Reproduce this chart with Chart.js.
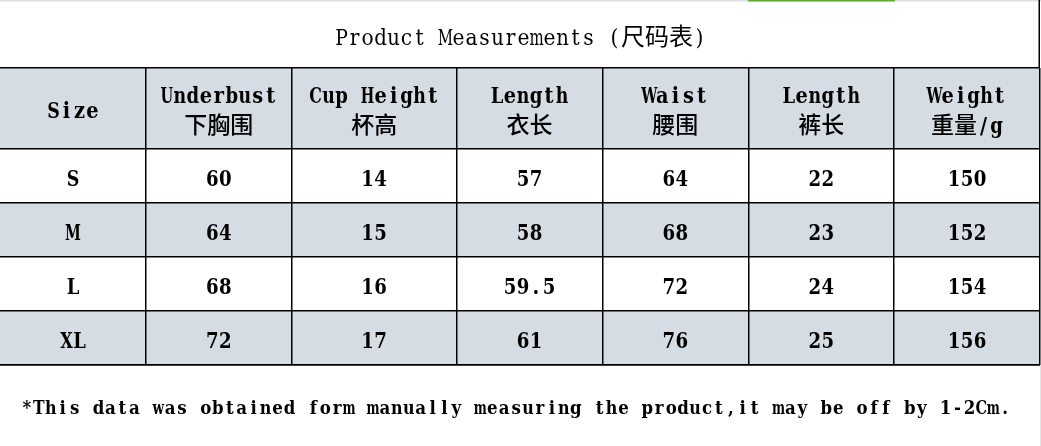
<!DOCTYPE html>
<html>
<head>
<meta charset="utf-8">
<script src="https://cdn.jsdelivr.net/npm/chart.js@4.4.1/dist/chart.umd.min.js"></script>
<style>
html,body{margin:0;padding:0;background:#fff;}
#wrap{width:1041px;height:446px;}
</style>
</head>
<body>
<div id="wrap"><canvas id="c" width="1041" height="446"></canvas></div>
<script>
// ---- data ----
const title = 'Product Measurements (尺码表)';
const footnote = '*This data was obtained form manually measuring the product,it may be off by 1-2Cm.';
const headersEn = ['Size', 'Underbust', 'Cup Height', 'Length', 'Waist', 'Length', 'Weight'];
const headersZh = ['', '下胸围', '杯高', '衣长', '腰围', '裤长', '重量/g'];
const sizes = ['S', 'M', 'L', 'XL'];
const underbust = [60, 64, 68, 72];
const cupHeight = [14, 15, 16, 17];
const topLength = [57, 58, 59.5, 61];
const waist = [64, 68, 72, 76];
const pantsLength = [22, 23, 24, 25];
const weight = [150, 152, 154, 156];

// ---- layout (relative column / row sizes) ----
const colWeights = [1, 1, 1.13, 1, 1, 1, 1];
const rowWeights = [1.5, 1, 1, 1, 1];
const cum = a => a.reduce((acc, w) => { acc.push(acc[acc.length - 1] + w); return acc; }, [0]);
const xEdges = cum(colWeights);
const yEdges = cum(rowWeights);
const columns = [sizes, underbust, cupHeight, topLength, waist, pantsLength, weight];

const LATIN = '"DejaVu Serif", "Liberation Serif", serif';
const CJK = '"Noto Sans CJK SC"';
const BAND = '#d6dce4';

function isCJK(ch) { return ch.charCodeAt(0) > 0x2e7f; }
function runsOf(text) {
  const runs = [];
  for (const ch of text) {
    const c = isCJK(ch);
    if (runs.length && runs[runs.length - 1].cjk === c) runs[runs.length - 1].t += ch;
    else runs.push({ t: ch, cjk: c });
  }
  return runs;
}
// Latin is laid out monospaced (one fixed cell per character), CJK at its own width
function drawMixed(ctx, text, x, baseline, o) {
  const latinFont = (o.weight || 'bold') + ' ' + o.latinPx + 'px ' + LATIN;
  const cjkFont = (o.cjkWeight || '500') + ' ' + o.cjkPx + 'px ' + CJK;
  const runs = runsOf(text);
  let total = 0;
  runs.forEach(r => {
    if (r.cjk) { ctx.font = cjkFont; r.w = ctx.measureText(r.t).width; }
    else r.w = [...r.t].length * o.adv;
    total += r.w;
  });
  let cx = o.align === 'left' ? x : x - total / 2;
  ctx.fillStyle = '#000';
  ctx.textBaseline = 'alphabetic';
  runs.forEach(r => {
    if (r.cjk) {
      ctx.font = cjkFont;
      try { ctx.fontStretch = 'normal'; } catch (e) {}
      ctx.textAlign = 'left';
      ctx.fillText(r.t, cx, baseline);
    } else {
      ctx.font = latinFont;
      try { ctx.fontStretch = 'condensed'; } catch (e) {}
      ctx.textAlign = 'center';
      [...r.t].forEach((ch, i) => {
        const w = ctx.measureText(ch).width;
        const s = Math.max(0.74, Math.min(1, (o.adv * 0.97) / w));
        ctx.save();
        ctx.translate(cx + (i + 0.5) * o.adv, baseline);
        ctx.scale(s, 1);
        ctx.fillText(ch, 0, 0);
        ctx.restore();
      });
      try { ctx.fontStretch = 'normal'; } catch (e) {}
    }
    cx += r.w;
  });
}

const tablePlugin = {
  id: 'tablePlugin',
  beforeDraw(chart) {
    const ctx = chart.ctx, xs = chart.scales.x, ys = chart.scales.y;
    ctx.save();
    ctx.fillStyle = '#fff';
    ctx.fillRect(0, 0, chart.width, chart.height);
    ctx.fillStyle = '#dedede';
    ctx.fillRect(0, 0, chart.width, 1.5);
    ctx.fillStyle = '#62a83f';
    ctx.fillRect(748, 0, 147, 1.5);
    const left = xs.getPixelForValue(xEdges[0]);
    const right = xs.getPixelForValue(xEdges[xEdges.length - 1]);
    [0, 2, 4].forEach(r => {
      const y0 = ys.getPixelForValue(yEdges[r]);
      const y1 = ys.getPixelForValue(yEdges[r + 1]);
      ctx.fillStyle = BAND;
      ctx.fillRect(left, y0, right - left, y1 - y0);
    });
    ctx.restore();
  },
  afterDraw(chart) {
    const ctx = chart.ctx, xs = chart.scales.x, ys = chart.scales.y;
    const right = xs.getPixelForValue(xEdges[xEdges.length - 1]);
    const top = ys.getPixelForValue(yEdges[0]);
    const bottom = ys.getPixelForValue(yEdges[yEdges.length - 1]);
    ctx.save();
    ctx.strokeStyle = '#000';
    ctx.lineWidth = 1.5;
    ctx.beginPath(); ctx.moveTo(right - 0.75, 0); ctx.lineTo(right - 0.75, top); ctx.stroke();
    ctx.strokeStyle = '#e4e4e4';
    ctx.lineWidth = 1;
    ctx.beginPath(); ctx.moveTo(right + 0.5, bottom); ctx.lineTo(right + 0.5, chart.height); ctx.stroke();

    const cell = { latinPx: 21.5, cjkPx: 23, adv: 13 };
    // title
    drawMixed(ctx, title, chart.width / 2, 45, { latinPx: 22.5, cjkPx: 24, adv: 13, weight: 'normal', cjkWeight: 'normal' });

    // header row
    const hy = (ys.getPixelForValue(yEdges[0]) + ys.getPixelForValue(yEdges[1])) / 2;
    headersEn.forEach((h, c) => {
      const cx = (xs.getPixelForValue(xEdges[c]) + xs.getPixelForValue(xEdges[c + 1])) / 2;
      if (headersZh[c]) {
        drawMixed(ctx, h, cx, hy - 6, cell);
        drawMixed(ctx, headersZh[c], cx, hy + 24, cell);
      } else {
        drawMixed(ctx, h, cx, hy + 9.5, cell);
      }
    });

    // body rows
    sizes.forEach((s, r) => {
      const yc = (ys.getPixelForValue(yEdges[r + 1]) + ys.getPixelForValue(yEdges[r + 2])) / 2;
      columns.forEach((col, c) => {
        const cx = (xs.getPixelForValue(xEdges[c]) + xs.getPixelForValue(xEdges[c + 1])) / 2;
        drawMixed(ctx, String(col[r]), cx, yc + 10.4, cell);
      });
    });

    // footnote
    drawMixed(ctx, footnote, 21, 414, { latinPx: 18.5, cjkPx: 21, adv: 11.93, align: 'left' });
    ctx.restore();
  }
};

const gridOpts = { color: '#000', lineWidth: 1.5, drawTicks: false };
new Chart(document.getElementById('c'), {
  type: 'scatter',
  data: { datasets: [{ data: [], pointRadius: 0 }] },
  options: {
    responsive: false,
    animation: false,
    events: [],
    layout: { padding: { left: 0, right: 1, top: 68, bottom: 81 } },
    plugins: { legend: { display: false }, tooltip: { enabled: false } },
    scales: {
      x: {
        type: 'linear', position: 'bottom', min: xEdges[0], max: xEdges[xEdges.length - 1],
        grid: gridOpts, border: { display: true, color: '#000', width: 1.5 },
        ticks: { display: false },
        afterBuildTicks: s => { s.ticks = xEdges.slice(1).map(v => ({ value: v })); }
      },
      y: {
        type: 'linear', reverse: true, min: yEdges[0], max: yEdges[yEdges.length - 1],
        grid: gridOpts, border: { display: false },
        ticks: { display: false },
        afterBuildTicks: s => { s.ticks = yEdges.map(v => ({ value: v })); }
      }
    }
  },
  plugins: [tablePlugin]
});
</script>
</body>
</html>
